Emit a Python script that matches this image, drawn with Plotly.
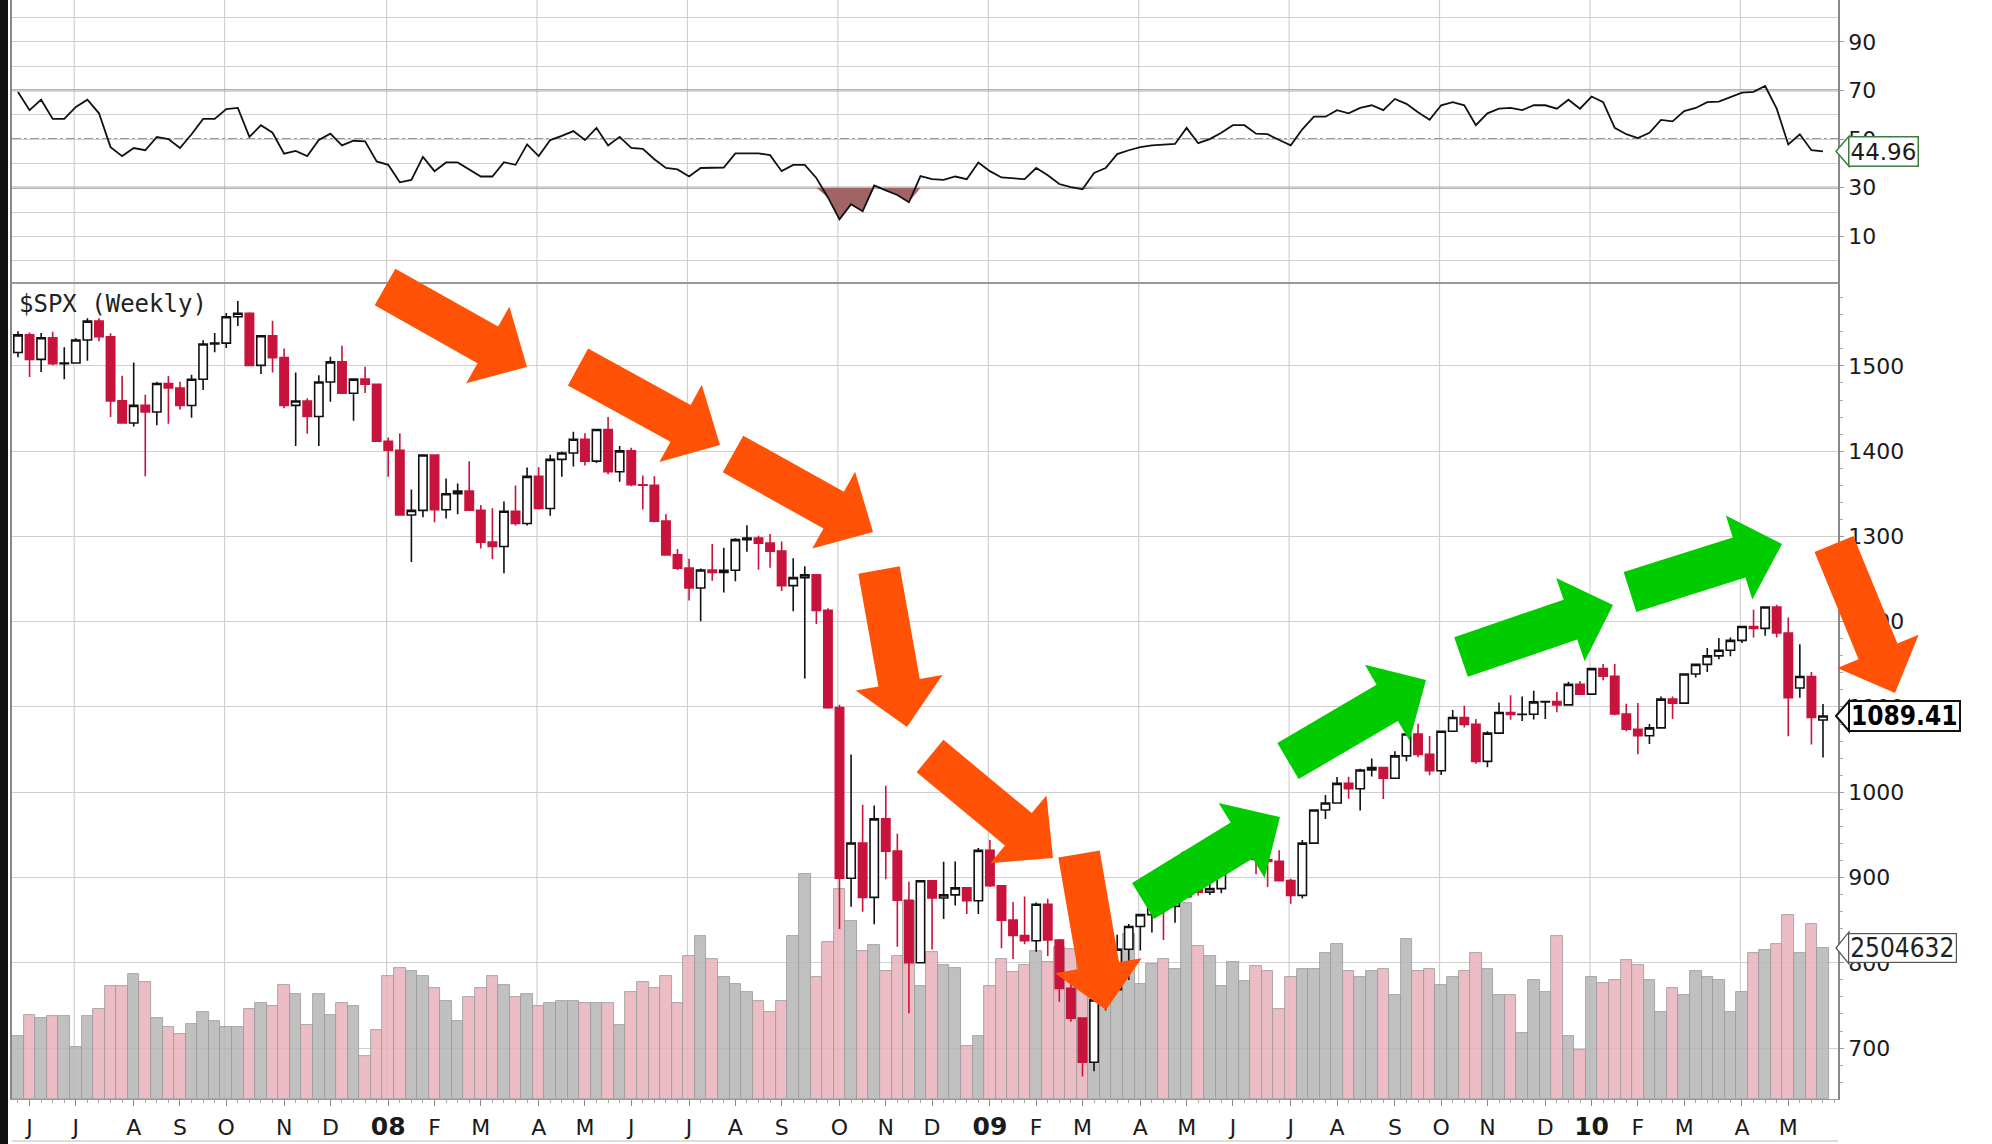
import math
import pandas as pd
import plotly.graph_objects as go

# ---------------------------------------------------------------- data
# weekly bars, each dated by the Monday of its week
weeks = pd.date_range("2007-05-28", periods=157, freq="7D")

opens = [
    1515.73, 1536.34, 1507.67, 1532.91, 1502.56, 1503.35, 1530.44, 1552.50, 1534.10, 1458.95,
    1433.06, 1453.64, 1445.94, 1479.37, 1473.99, 1453.55, 1484.25, 1525.75, 1526.75, 1557.59,
    1561.80, 1500.63, 1535.28, 1509.65, 1453.70, 1458.74, 1440.70, 1481.14, 1504.66, 1467.95,
    1484.46, 1478.49, 1411.63, 1401.02, 1325.19, 1330.61, 1395.42, 1331.29, 1349.99, 1353.11,
    1330.63, 1293.37, 1288.14, 1329.51, 1315.22, 1370.40, 1332.83, 1390.33, 1397.84, 1413.90,
    1388.28, 1425.35, 1375.93, 1400.38, 1360.68, 1360.03, 1317.93, 1278.38, 1262.90, 1239.49,
    1260.68, 1257.76, 1260.31, 1296.32, 1298.20, 1292.20, 1282.83, 1242.31, 1251.70, 1255.08,
    1213.27, 1099.23, 899.22, 940.55, 876.77, 968.75, 930.99, 873.29, 800.03, 896.24,
    876.07, 879.73, 887.88, 872.80, 931.80, 890.35, 850.12, 831.95, 825.88, 868.60,
    826.84, 770.05, 735.09, 683.38, 756.55, 768.54, 815.94, 842.50, 856.56, 869.60,
    866.23, 877.52, 929.23, 882.88, 887.00, 919.14, 940.09, 946.21, 921.23, 918.90,
    896.42, 879.13, 940.38, 979.26, 987.48, 1010.48, 1004.09, 1026.13, 1028.93, 1016.40,
    1042.73, 1068.30, 1044.38, 1025.21, 1071.49, 1087.68, 1079.60, 1036.19, 1069.30, 1093.48,
    1091.38, 1091.49, 1105.98, 1106.41, 1102.47, 1126.48, 1115.10, 1144.98, 1136.03, 1091.76,
    1073.87, 1066.19, 1075.51, 1109.17, 1104.49, 1138.70, 1149.99, 1159.90, 1166.59, 1178.10,
    1194.37, 1192.13, 1217.28, 1186.69, 1122.27, 1135.68, 1084.78]

highs = [
    1540.56, 1539.12, 1538.71, 1540.00, 1522.00, 1532.40, 1555.90, 1555.90, 1538.40, 1488.30,
    1503.90, 1466.30, 1481.50, 1488.00, 1481.50, 1489.60, 1530.00, 1538.70, 1561.90, 1576.10,
    1563.00, 1535.30, 1552.80, 1520.40, 1492.10, 1462.00, 1488.90, 1510.60, 1523.60, 1485.40,
    1498.90, 1478.50, 1416.00, 1421.00, 1355.00, 1396.00, 1396.00, 1368.00, 1362.00, 1388.30,
    1337.00, 1333.00, 1341.00, 1359.70, 1380.90, 1381.00, 1395.90, 1399.30, 1422.70, 1421.00,
    1425.40, 1440.20, 1406.00, 1404.00, 1371.40, 1370.60, 1325.90, 1285.30, 1273.90, 1262.30,
    1291.00, 1286.60, 1297.90, 1313.20, 1300.70, 1303.00, 1294.00, 1274.40, 1265.00, 1255.10,
    1215.80, 1102.60, 1044.30, 985.40, 984.40, 1007.50, 951.40, 895.00, 896.30, 896.30,
    918.60, 918.90, 887.90, 934.70, 943.90, 890.40, 871.40, 877.90, 870.80, 875.00,
    827.80, 780.00, 735.10, 758.30, 804.50, 833.00, 845.60, 856.60, 875.60, 871.80,
    880.40, 930.20, 930.00, 924.60, 920.00, 951.70, 956.20, 946.30, 934.00, 931.90,
    898.70, 944.00, 979.80, 996.70, 1018.00, 1018.10, 1027.60, 1039.50, 1029.00, 1048.20,
    1074.80, 1080.20, 1066.00, 1071.50, 1096.60, 1101.40, 1085.90, 1071.50, 1105.40, 1113.70,
    1112.40, 1119.10, 1107.20, 1117.70, 1129.60, 1130.40, 1145.40, 1150.40, 1150.50, 1103.70,
    1104.70, 1080.00, 1112.40, 1112.40, 1139.00, 1150.00, 1169.20, 1180.80, 1181.40, 1194.70,
    1213.90, 1217.30, 1219.80, 1205.00, 1173.60, 1141.00, 1103.50]

lows = [
    1510.10, 1487.00, 1492.70, 1500.70, 1484.20, 1503.00, 1506.00, 1529.00, 1440.00, 1432.50,
    1429.00, 1370.60, 1430.50, 1432.00, 1449.00, 1439.30, 1471.80, 1516.00, 1521.00, 1546.70,
    1500.20, 1490.60, 1492.30, 1450.20, 1406.10, 1420.30, 1406.00, 1457.80, 1467.40, 1435.70,
    1468.30, 1411.20, 1370.00, 1325.00, 1270.10, 1322.40, 1316.70, 1321.00, 1326.00, 1330.40,
    1286.00, 1273.40, 1256.90, 1312.80, 1312.80, 1331.70, 1324.40, 1370.00, 1382.00, 1383.10,
    1386.00, 1373.00, 1364.00, 1358.80, 1331.60, 1316.50, 1278.00, 1260.70, 1225.00, 1200.40,
    1248.00, 1234.40, 1247.50, 1282.00, 1261.00, 1263.20, 1236.00, 1212.40, 1133.50, 1197.20,
    1098.00, 839.80, 865.80, 860.00, 845.30, 897.90, 818.70, 741.00, 799.20, 815.70,
    851.40, 867.30, 857.10, 857.30, 889.00, 817.00, 804.50, 821.70, 812.90, 808.00,
    754.30, 731.00, 666.80, 672.90, 744.20, 768.50, 779.80, 814.50, 835.60, 826.80,
    847.10, 877.50, 878.90, 879.60, 881.50, 916.60, 926.00, 903.90, 888.90, 896.00,
    869.30, 875.30, 940.30, 968.70, 987.40, 992.40, 978.50, 1018.50, 992.00, 1016.40,
    1036.40, 1041.20, 1020.00, 1020.20, 1071.40, 1075.90, 1033.40, 1029.40, 1069.30, 1085.10,
    1083.70, 1085.40, 1085.90, 1093.90, 1102.40, 1114.80, 1115.10, 1131.40, 1090.20, 1071.60,
    1044.50, 1056.50, 1075.50, 1086.00, 1104.40, 1134.50, 1141.10, 1156.00, 1159.60, 1175.10,
    1181.60, 1183.50, 1181.60, 1065.80, 1110.90, 1055.90, 1040.80]

closes = [
    1536.34, 1507.67, 1532.91, 1502.56, 1503.35, 1530.44, 1552.50, 1534.10, 1458.95, 1433.06,
    1453.64, 1445.94, 1479.37, 1473.99, 1453.55, 1484.25, 1525.75, 1526.75, 1557.59, 1561.80,
    1500.63, 1535.28, 1509.65, 1453.70, 1458.74, 1440.70, 1481.14, 1504.66, 1467.95, 1484.46,
    1478.49, 1411.63, 1401.02, 1325.19, 1330.61, 1395.42, 1331.29, 1349.99, 1353.11, 1330.63,
    1293.37, 1288.14, 1329.51, 1315.22, 1370.40, 1332.83, 1390.33, 1397.84, 1413.90, 1388.28,
    1425.35, 1375.93, 1400.38, 1360.68, 1360.03, 1317.93, 1278.38, 1262.90, 1239.49, 1260.68,
    1257.76, 1260.31, 1296.32, 1298.20, 1292.20, 1282.83, 1242.31, 1251.70, 1255.08, 1213.27,
    1099.23, 899.22, 940.55, 876.77, 968.75, 930.99, 873.29, 800.03, 896.24, 876.07,
    879.73, 887.88, 872.80, 931.80, 890.35, 850.12, 831.95, 825.88, 868.60, 826.84,
    770.05, 735.09, 683.38, 756.55, 768.54, 815.94, 842.50, 856.56, 869.60, 866.23,
    877.52, 929.23, 882.88, 887.00, 919.14, 940.09, 946.21, 921.23, 918.90, 896.42,
    879.13, 940.38, 979.26, 987.48, 1010.48, 1004.09, 1026.13, 1028.93, 1016.40, 1042.73,
    1068.30, 1044.38, 1025.21, 1071.49, 1087.68, 1079.60, 1036.19, 1069.30, 1093.48, 1091.38,
    1091.49, 1105.98, 1106.41, 1102.47, 1126.48, 1115.10, 1144.98, 1136.03, 1091.76, 1073.87,
    1066.19, 1075.51, 1109.17, 1104.49, 1138.70, 1149.99, 1159.90, 1166.59, 1178.10, 1194.37,
    1192.13, 1217.28, 1186.69, 1110.88, 1135.68, 1087.69, 1089.41]

volumes = [
    1050000, 1393000, 1339000, 1382000, 1382000, 858000, 1382000, 1493000, 1874000, 1874000,
    2073000, 1936000, 1339000, 1189000, 1078000, 1244000, 1438000, 1299000, 1189000, 1189000,
    1493000, 1592000, 1538000, 1891000, 1742000, 1227000, 1742000, 1393000, 1592000, 1538000,
    708000, 1145000, 2035000, 2178000, 2128000, 2035000, 1836000, 1631000, 1299000, 1687000,
    1836000, 2035000, 1891000, 1687000, 1742000, 1538000, 1592000, 1631000, 1631000, 1592000,
    1592000, 1592000, 1227000, 1780000, 1936000, 1836000, 2035000, 1592000, 2377000, 2709000,
    2322000, 2019000, 1908000, 1780000, 1631000, 1438000, 1631000, 2709000, 3732000, 2019000,
    2609000, 3483000, 2957000, 2460000, 2559000, 2128000, 2377000, 3289000, 1879000, 2433000,
    2223000, 2168000, 884000, 1040000, 1879000, 2322000, 2112000, 2223000, 2460000, 2267000,
    2516000, 2488000, 2654000, 2820000, 2903000, 2488000, 2737000, 1908000, 2239000, 2322000,
    2156000, 3251000, 2538000, 2372000, 1874000, 2272000, 1957000, 2206000, 2123000, 1493000,
    2024000, 2156000, 2163000, 2417000, 2563000, 2118000, 2024000, 2118000, 2163000, 1725000,
    2657000, 2118000, 2163000, 1884000, 2024000, 2118000, 2417000, 2163000, 1725000, 1725000,
    1091000, 1979000, 1770000, 2709000, 1040000, 818000, 2024000, 1929000, 1979000, 2309000,
    2226000, 1979000, 1440000, 1833000, 1725000, 2118000, 2024000, 1979000, 1440000, 1770000,
    2417000, 2468000, 2563000, 3052000, 2417000, 2911000, 2504632]

rsi = [
    69.4, 61.9, 66.2, 58.3, 58.3, 63.2, 66.2, 60.6, 46.7, 43.0,
    46.3, 45.4, 50.9, 50.0, 46.3, 52.0, 58.3, 58.3, 62.3, 62.8,
    50.9, 55.7, 52.6, 44.0, 45.1, 43.0, 49.6, 52.2, 47.4, 49.3,
    49.1, 40.8, 39.4, 32.2, 33.2, 42.7, 36.8, 40.4, 40.4, 37.5,
    34.6, 34.6, 40.5, 39.4, 47.8, 43.0, 49.6, 51.3, 53.3, 49.6,
    54.6, 47.4, 50.9, 46.4, 46.0, 41.7, 38.1, 37.5, 34.6, 38.1,
    38.1, 38.3, 44.1, 44.1, 44.1, 43.4, 36.8, 39.4, 39.4, 34.0,
    26.0, 17.0, 23.2, 20.3, 30.9, 28.9, 27.0, 24.0, 34.8, 33.5,
    33.2, 34.6, 33.5, 40.4, 36.8, 34.2, 34.0, 33.5, 38.1, 35.1,
    31.5, 30.2, 29.4, 36.1, 38.1, 43.8, 45.4, 46.7, 47.4, 47.8,
    48.0, 54.6, 48.3, 50.0, 52.6, 55.7, 55.7, 52.2, 52.0, 49.6,
    47.4, 54.0, 59.2, 59.2, 61.9, 60.6, 62.8, 63.9, 61.9, 66.5,
    64.5, 61.0, 57.9, 63.9, 65.2, 63.9, 55.7, 60.6, 62.5, 62.8,
    61.9, 63.9, 63.9, 62.5, 66.2, 62.5, 67.5, 65.2, 54.6, 52.0,
    50.4, 52.6, 57.9, 57.3, 61.5, 62.8, 65.2, 65.4, 67.2, 69.1,
    69.4, 71.8, 62.5, 47.8, 52.0, 45.4, 44.96]

prev_close_first = 1515.73          # close of the week before the first bar
rsi_ticks = [10, 30, 50, 70, 90]
rsi_minor = [0, 20, 40, 60, 80, 100]
rsi_levels = [30, 50, 70]
price_ticks = [700, 800, 900, 1000, 1100, 1200, 1300, 1400, 1500]
month_letters = ["J", "F", "M", "A", "M", "J", "J", "A", "S", "O", "N", "D"]

# ---------------------------------------------------------------- geometry
W, H = 1992, 1144
PL, PR, PT, PB = 12, 1838, 0, 1099      # plot area in px
DIV = 283                                # RSI / price divider
RSI_RANGE = [-9.2, 107.2]
PRICE_RANGE = [640.3, 1597.2]
VOL_MAX = 13.535e6
X_RANGE = ["2007-05-24 09:00", "2010-06-02 02:00"]

RED = "#c8143c"
GRID = "#d0d0d0"
ORANGE = "#ff5206"
GREEN = "#00cc00"


def xp(px):
    return (px - PL) / (PR - PL)


def yp(py):
    return (PB - py) / (PB - PT)


rsi_dom = [yp(DIV), 1.0]
price_dom = [0.0, yp(DIV)]

# month ticks at first bar of each month, year number in January
tickvals, ticktext, quarter_lines = [], [], []
seen = set()
for d in weeks:
    key = (d.year, d.month)
    if key in seen:
        continue
    seen.add(key)
    if d.day > 7:
        continue
    tickvals.append(d)
    if d.month == 1:
        ticktext.append('<span style="font-size:25px"><b>%02d</b></span>' % (d.year % 100))
    else:
        ticktext.append(month_letters[d.month - 1])
    if d.month in (1, 4, 7, 10):
        quarter_lines.append(d - pd.Timedelta(days=1))

# volume colours: up week grey, down week pink
vol_colors = []
for i, c in enumerate(closes):
    pc = prev_close_first if i == 0 else closes[i - 1]
    vol_colors.append("#b8b8b8" if c >= pc else "#eab4bc")

fig = go.Figure()

# ---------------- RSI panel
fig.add_trace(go.Scatter(x=weeks, y=[30] * len(rsi), xaxis="x2", yaxis="y",
                         mode="lines", line=dict(width=0, color="rgba(0,0,0,0)"),
                         hoverinfo="skip", showlegend=False))
fig.add_trace(go.Scatter(x=weeks, y=[min(v, 30) for v in rsi], xaxis="x2", yaxis="y",
                         mode="lines", line=dict(width=0, color="rgba(0,0,0,0)"),
                         fill="tonexty", fillcolor="#a06464",
                         hoverinfo="skip", showlegend=False))
fig.add_trace(go.Scatter(x=weeks, y=rsi, xaxis="x2", yaxis="y", mode="lines",
                         line=dict(color="#111111", width=1.8), showlegend=False,
                         name="RSI"))

# ---------------- volume (base axis) and candles (overlay)
fig.add_trace(go.Bar(x=weeks, y=volumes, xaxis="x", yaxis="y2",
                     width=7 * 24 * 3600 * 1000,
                     marker=dict(color=vol_colors, line=dict(color="#8c8c8c", width=0.8)),
                     opacity=0.88, showlegend=False, name="Volume"))
fig.add_trace(go.Candlestick(x=weeks, open=opens, high=highs, low=lows, close=closes,
                             xaxis="x", yaxis="y3", whiskerwidth=0,
                             increasing=dict(line=dict(color="#111111", width=1.6),
                                             fillcolor="white"),
                             decreasing=dict(line=dict(color=RED, width=1.6),
                                             fillcolor=RED),
                             showlegend=False, name="$SPX"))

shapes = []
annotations = []

# vertical quarter grid lines over both panels
for d in quarter_lines:
    shapes.append(dict(type="line", xref="x", yref="paper", x0=d, x1=d, y0=0, y1=1,
                       line=dict(color=GRID, width=1.2), layer="below"))

# RSI reference levels
for lv in rsi_levels:
    shapes.append(dict(type="line", xref="paper", yref="y", x0=0, x1=1, y0=lv, y1=lv,
                       line=dict(color="#666666" if lv != 50 else "#777777",
                                 width=1.8 if lv != 50 else 1.4,
                                 dash="solid" if lv != 50 else "dashdot"),
                       layer="below"))

# left frame band and bottom frame line
shapes.append(dict(type="rect", xref="paper", yref="paper", x0=xp(0), x1=xp(8),
                   y0=yp(H), y1=yp(0), fillcolor="#111111", line=dict(width=0),
                   layer="above"))
shapes.append(dict(type="line", xref="paper", yref="paper", x0=0, x1=1,
                   y0=yp(1141), y1=yp(1141), line=dict(color="#bbbbbb", width=1.2),
                   layer="above"))


# ---------------- block arrows
def arrow_path(x0, y0, x1, y1, sw=42, hw=88, hl=45):
    dx, dy = x1 - x0, y1 - y0
    ln = math.hypot(dx, dy)
    ux, uy = dx / ln, dy / ln
    nx, ny = -uy, ux
    bx, by = x1 - ux * hl, y1 - uy * hl
    pts = [(x0 + nx * sw / 2, y0 + ny * sw / 2),
           (bx + nx * sw / 2, by + ny * sw / 2),
           (bx + nx * hw / 2, by + ny * hw / 2),
           (x1, y1),
           (bx - nx * hw / 2, by - ny * hw / 2),
           (bx - nx * sw / 2, by - ny * sw / 2),
           (x0 - nx * sw / 2, y0 - ny * sw / 2)]
    return "M " + " L ".join("%.5f,%.5f" % (xp(x), yp(y)) for x, y in pts) + " Z"


arrows = [
    (385, 287, 527, 367, ORANGE),
    (578, 367, 720, 445, ORANGE),
    (733, 454, 873, 532, ORANGE),
    (879, 570, 907, 727, ORANGE),
    (930, 756, 1053, 858, ORANGE),
    (1079, 854, 1106, 1010, ORANGE),
    (1834, 544, 1895, 693, ORANGE),
    (1143, 901, 1280, 817, GREEN),
    (1288, 761, 1426, 680, GREEN),
    (1461, 657, 1613, 605, GREEN),
    (1630, 592, 1782, 544, GREEN),
]
for x0, y0, x1, y1, col in arrows:
    shapes.append(dict(type="path", xref="paper", yref="paper",
                       path=arrow_path(x0, y0, x1, y1), fillcolor=col,
                       line=dict(width=0), layer="above"))


# ---------------- value tags on the right axis
def rsi_px(v):
    return PT + (RSI_RANGE[1] - v) / (RSI_RANGE[1] - RSI_RANGE[0]) * (DIV - PT)


def price_px(v):
    return DIV + (PRICE_RANGE[1] - v) / (PRICE_RANGE[1] - PRICE_RANGE[0]) * (PB - DIV)


def vol_px(v):
    return PB - v / VOL_MAX * (PB - DIV)


def tag(py, text, font, border, bw, hh=15):
    shapes.append(dict(type="path", xref="paper", yref="paper",
                       path="M %.5f,%.5f L %.5f,%.5f L %.5f,%.5f Z" % (
                           xp(1836), yp(py), xp(1849), yp(py - hh), xp(1849), yp(py + hh)),
                       fillcolor="white", line=dict(color=border, width=bw), layer="above"))
    annotations.append(dict(x=xp(1848), y=yp(py), xref="paper", yref="paper",
                            xanchor="left", yanchor="middle", text=text, showarrow=False,
                            font=font, bgcolor="white", bordercolor=border,
                            borderwidth=bw, borderpad=1, height=26))


tag(rsi_px(rsi[-1]), "%.2f" % rsi[-1],
    dict(family="DejaVu Sans", size=23, color="#1a1a1a"), "#3d7d3d", 1.5)
tag(price_px(closes[-1]), "<b>%.2f</b>" % closes[-1],
    dict(family="Liberation Sans Narrow, DejaVu Sans Condensed, Liberation Sans",
         size=26, color="#000000"), "#111111", 2)
tag(vol_px(volumes[-1]), "%d" % volumes[-1],
    dict(family="Liberation Sans Narrow, DejaVu Sans Condensed, Liberation Sans",
         size=26, color="#222222"), "#555555", 1.2, hh=16)

annotations.append(dict(x=xp(17), y=yp(288), xref="paper", yref="paper",
                        xanchor="left", yanchor="top", text="$SPX (Weekly)",
                        showarrow=False,
                        font=dict(family="DejaVu Sans Mono", size=24, color="#222222")))

tickfont = dict(family="DejaVu Sans", size=22, color="#1a1a1a")

fig.update_layout(
    width=W, height=H, template="none",
    paper_bgcolor="white", plot_bgcolor="white",
    margin=dict(l=PL, r=W - PR, t=PT, b=H - PB, autoexpand=False),
    showlegend=False, bargap=0, boxgap=0.15, boxgroupgap=0.15,
    hovermode=False,
    xaxis=dict(domain=[0, 1], anchor="y2", type="date", range=X_RANGE,
               tickmode="array", tickvals=tickvals, ticktext=ticktext,
               ticks="outside", ticklen=6, tickcolor="#888888", tickwidth=1,
               tickfont=tickfont, ticklabelstandoff=2,
               minor=dict(dtick=7 * 24 * 3600 * 1000, tick0="2007-05-28",
                          ticks="outside", ticklen=3, tickcolor="#aaaaaa",
                          showgrid=False),
               showgrid=False, zeroline=False, showline=True, linecolor="#999999",
               linewidth=1.2, mirror=True, rangeslider=dict(visible=False),
               automargin=False),
    xaxis2=dict(domain=[0, 1], anchor="y", matches="x", type="date", range=X_RANGE,
                showticklabels=False, ticks="", showgrid=False, zeroline=False,
                showline=True, linecolor="#999999", linewidth=1.2, mirror=True,
                automargin=False),
    yaxis=dict(domain=rsi_dom, anchor="x2", side="right", range=RSI_RANGE,
               tickmode="array", tickvals=rsi_ticks, tickfont=tickfont,
               ticks="outside", ticklen=4, tickcolor="#999999",
               showgrid=True, gridcolor=GRID, gridwidth=1.2,
               minor=dict(tickvals=rsi_minor, showgrid=True, gridcolor=GRID,
                          gridwidth=1.2, ticks=""),
               zeroline=False, showline=True, linecolor="#888888", linewidth=1.5,
               mirror=True, automargin=False),
    yaxis2=dict(domain=price_dom, anchor="x", range=[0, VOL_MAX], visible=False,
                showgrid=False, zeroline=False, automargin=False),
    yaxis3=dict(overlaying="y2", anchor="x", side="right", range=PRICE_RANGE,
                tickmode="array", tickvals=price_ticks, tickfont=tickfont,
                ticks="outside", ticklen=4, tickcolor="#999999",
                minor=dict(dtick=20, ticks="outside", ticklen=3, tickcolor="#aaaaaa",
                           showgrid=False),
                showgrid=True, gridcolor=GRID, gridwidth=1.2, zeroline=False,
                showline=True, linecolor="#888888", linewidth=1.5, mirror=True,
                automargin=False),
    shapes=shapes,
    annotations=annotations,
)

fig.write_html("out.html", config={"displayModeBar": False},
               post_script="document.body.style.margin='0';")
